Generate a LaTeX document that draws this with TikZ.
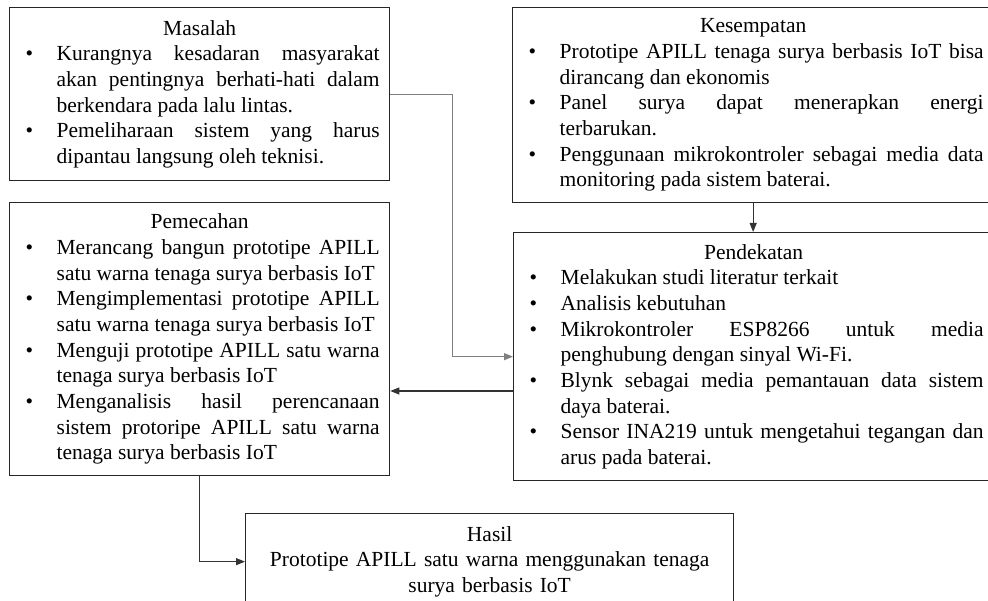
\documentclass[tikz,border=0pt]{standalone}
\usepackage{fontspec}
\setmainfont{Liberation Serif}
\usetikzlibrary{arrows.meta}
\newcommand{\bitem}[1]{\par\noindent\hangindent=37pt\hangafter=1\makebox[37pt][l]{\hspace{6pt}\textbullet}#1\par}
\newcommand{\bhead}[1]{\noindent\makebox[\hsize]{#1}\par}
\tikzset{
  box/.style={draw=black!85, line width=1.3pt, inner xsep=10pt, inner ysep=0pt,
    align=justify, anchor=north west, font=\fontsize{21.5}{25.7}\selectfont},
  conn/.style={draw=black!80, line width=1.1pt, -{Triangle[length=9pt,width=7pt]}},
  gconn/.style={conn, draw=black!50}
}
\begin{document}
\begin{tikzpicture}[x=1pt,y=-1pt]
\useasboundingbox (0,0) rectangle (988,601);
\node[box, text width=360pt, minimum height=173pt] (masalah) at (9,7) {%
\bhead{Masalah}
\bitem{Kurangnya kesadaran masyarakat\linebreak akan pentingnya berhati-hati dalam\linebreak berkendara pada lalu lintas.}
\bitem{Pemeliharaan sistem yang harus\linebreak dipantau langsung oleh teknisi.}};
\node[box, text width=461pt, minimum height=195pt] (kesempatan) at (512,7) {%
\bhead{Kesempatan}
\bitem{Prototipe APILL tenaga surya berbasis IoT bisa\linebreak dirancang dan ekonomis}
\bitem{Panel surya dapat menerapkan energi\linebreak terbarukan.}
\bitem{Penggunaan mikrokontroler sebagai media data\linebreak monitoring pada sistem baterai.}};
\node[box, text width=360pt, minimum height=273pt] (pemecahan) at (9,202) {%
\bhead{Pemecahan}
\bitem{Merancang bangun prototipe APILL\linebreak satu warna tenaga surya berbasis IoT}
\bitem{Mengimplementasi prototipe APILL\linebreak satu warna tenaga surya berbasis IoT}
\bitem{Menguji prototipe APILL satu warna\linebreak tenaga surya berbasis IoT}
\bitem{Menganalisis hasil perencanaan\linebreak sistem protoripe APILL satu warna\linebreak tenaga surya berbasis IoT}};
\node[box, text width=460pt, minimum height=248pt] (pendekatan) at (513,232) {%
\bhead{Pendekatan}
\bitem{Melakukan studi literatur terkait}
\bitem{Analisis kebutuhan}
\bitem{Mikrokontroler ESP8266 untuk media\linebreak penghubung dengan sinyal Wi-Fi.}
\bitem{Blynk sebagai media pemantauan data sistem\linebreak daya baterai.}
\bitem{Sensor INA219 untuk mengetahui tegangan dan\linebreak arus pada baterai.}};
\node[box, align=center, text width=468pt, minimum height=96pt] (hasil) at (245,513) {%
Hasil\\Prototipe APILL satu warna menggunakan tenaga\\surya berbasis IoT};
\coordinate (pp) at (0,391);
\draw[gconn] (masalah.east) -- ++(62,0) |- (pendekatan.west);
\draw[conn] (kesempatan.south) -- (kesempatan.south |- pendekatan.north);
\draw[conn] (pendekatan.west |- pp) -- (pemecahan.east |- pp);
\draw[conn] (pemecahan.south) |- (hasil.west);
\end{tikzpicture}
\end{document}
